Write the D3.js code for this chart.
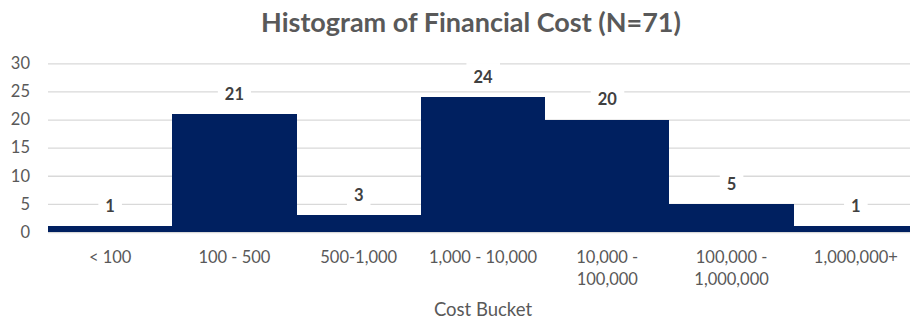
<!DOCTYPE html>
<html>
<head>
<meta charset="utf-8">
<script src="https://cdn.jsdelivr.net/npm/d3@7"></script>
<style>
  html, body { margin: 0; padding: 0; background: #fff; }
  svg { display: block; font-family: Lato, "Open Sans", sans-serif; }
</style>
</head>
<body>
<svg id="chart" width="910" height="320"></svg>
<script>
// Cost buckets and the number of cases in each
const categories = ["< 100", "100 - 500", "500-1,000", "1,000 - 10,000", "10,000 - 100,000", "100,000 - 1,000,000", "1,000,000+"];
const counts = [1, 21, 3, 24, 20, 5, 1];
const yTicks = [0, 5, 10, 15, 20, 25, 30];
const titleText = "Histogram of Financial Cost (N=71)";
const xAxisTitle = "Cost Bucket";

const svg = d3.select("#chart");
const W = 910, H = 320;
const margin = { left: 48, right: -8, top: 63.3, bottom: 88 };

const x = d3.scaleBand()
  .domain(categories)
  .range([margin.left, W - margin.right])
  .padding(0);

const y = d3.scaleLinear()
  .domain([0, 30])
  .range([H - margin.bottom, margin.top]);

const textColor = "#595959";
const barColor = "#002060";

// Title
svg.append("text")
  .attr("x", 471)
  .attr("y", 32)
  .attr("text-anchor", "middle")
  .attr("fill", textColor)
  .attr("font-weight", "bold")
  .attr("font-size", 27)
  .text(titleText);

// Horizontal gridlines and y tick labels
const yAxis = d3.axisLeft(y).tickValues(yTicks).tickSize(-(x.range()[1] - x.range()[0])).tickPadding(18);
const gy = svg.append("g")
  .attr("transform", `translate(${margin.left},0)`)
  .call(yAxis);
gy.select(".domain").remove();
gy.selectAll(".tick line").attr("stroke", "#d9d9d9").attr("stroke-width", 1.3);
gy.selectAll(".tick text")
  .attr("fill", textColor)
  .attr("font-size", 16.5)
  .attr("font-family", "Lato, sans-serif");

// Bars (adjacent, no gaps between them)
svg.append("g")
  .attr("shape-rendering", "crispEdges")
  .selectAll("rect")
  .data(counts)
  .join("rect")
  .attr("x", (d, i) => Math.round(x(categories[i])))
  .attr("y", d => y(d))
  .attr("width", (d, i) => Math.round(x(categories[i]) + x.bandwidth()) - Math.round(x(categories[i])))
  .attr("height", d => y(0) - y(d))
  .attr("fill", barColor);

// Baseline
svg.append("line")
  .attr("x1", x.range()[0]).attr("x2", x.range()[1])
  .attr("y1", y(0) + 0.5).attr("y2", y(0) + 0.5)
  .attr("stroke", "#d9d9d9").attr("stroke-width", 1);

// Value labels with white background boxes
const labels = svg.append("g")
  .selectAll("g")
  .data(counts)
  .join("g")
  .attr("transform", (d, i) => `translate(${x(categories[i]) + x.bandwidth() / 2},${y(d) - 20})`);

labels.append("text")
  .attr("text-anchor", "middle")
  .attr("dy", "0.35em")
  .attr("fill", "#404040")
  .attr("font-weight", "bold")
  .attr("font-size", 16.5)
  .text(d => d);

labels.each(function () {
  const g = d3.select(this);
  const bb = g.select("text").node().getBBox();
  g.insert("rect", "text")
    .attr("x", bb.x - 7)
    .attr("y", -14)
    .attr("width", bb.width + 14)
    .attr("height", 28)
    .attr("fill", "#fff");
});

// Category labels, wrapped to fit the band
const xAxisG = svg.append("g");
const maxW = 115;
categories.forEach(cat => {
  const cx = x(cat) + x.bandwidth() / 2;
  const t = xAxisG.append("text")
    .attr("x", cx)
    .attr("y", 263)
    .attr("text-anchor", "middle")
    .attr("fill", textColor)
    .attr("font-size", 16.5);
  const words = cat.split(" ");
  let line = [];
  let tspan = t.append("tspan").attr("x", cx).attr("dy", 0);
  words.forEach(w => {
    line.push(w);
    tspan.text(line.join(" "));
    if (tspan.node().getComputedTextLength() > maxW && line.length > 1) {
      line.pop();
      tspan.text(line.join(" "));
      line = [w];
      tspan = t.append("tspan").attr("x", cx).attr("dy", 22).text(w);
    }
  });
});

// Axis title
svg.append("text")
  .attr("x", 483)
  .attr("y", 316)
  .attr("text-anchor", "middle")
  .attr("fill", textColor)
  .attr("font-size", 18.5)
  .text(xAxisTitle);
</script>
</body>
</html>
